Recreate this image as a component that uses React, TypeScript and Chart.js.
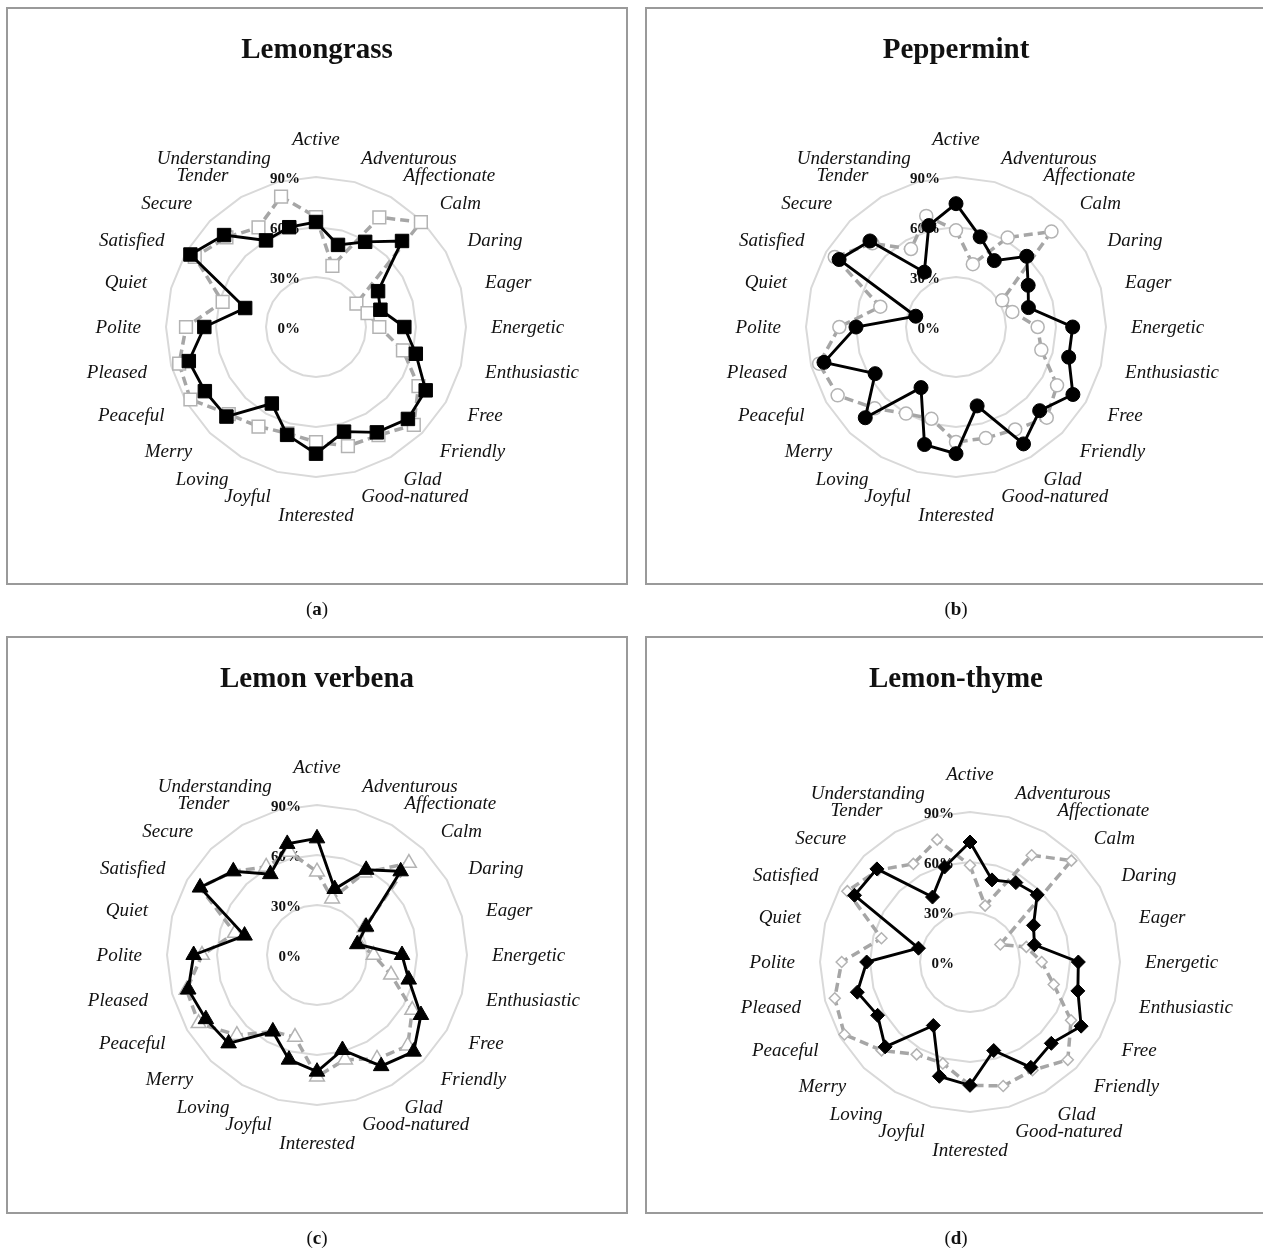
import React, { useEffect, useRef } from 'react';
import { Chart, registerables } from 'chart.js';

Chart.register(...registerables);

// ---------- data ----------
const categories = [
  'Active', 'Adventurous', 'Affectionate', 'Calm', 'Daring', 'Eager',
  'Energetic', 'Enthusiastic', 'Free', 'Friendly', 'Glad', 'Good-natured',
  'Interested', 'Joyful', 'Loving', 'Merry', 'Peaceful', 'Pleased',
  'Polite', 'Quiet', 'Satisfied', 'Secure', 'Tender', 'Understanding',
];

const axisMin = 0;
const axisMax = 90;
const axisStep = 30;

const lemongrassSolid = [63, 51, 59, 73, 43, 40, 53, 62, 76, 78, 73, 65, 76, 67, 53, 76, 77, 79, 67, 44, 87, 78, 60, 62];
const lemongrassDashed = [66, 38, 76, 89, 28, 32, 38, 54, 71, 83, 75, 74, 69, 66, 69, 74, 87, 85, 78, 58, 84, 76, 69, 81];

const peppermintSolid = [74, 56, 46, 60, 50, 45, 70, 70, 81, 71, 81, 49, 76, 73, 42, 77, 56, 82, 60, 25, 81, 73, 38, 63];
const peppermintDashed = [58, 39, 62, 81, 32, 35, 49, 53, 70, 77, 71, 69, 69, 57, 60, 69, 82, 85, 70, 47, 84, 71, 54, 69];

const verbenaSolid = [70, 41, 59, 71, 34, 25, 51, 57, 72, 82, 77, 59, 70, 65, 53, 75, 77, 80, 74, 45, 81, 71, 56, 69];
const verbenaDashed = [50, 35, 57, 78, 33, 26, 34, 46, 66, 77, 72, 65, 73, 51, 53, 68, 82, 81, 69, 51, 81, 71, 61, 64];

const thymeSolid = [72, 51, 55, 57, 44, 40, 65, 67, 77, 69, 73, 55, 74, 71, 44, 72, 64, 70, 62, 32, 80, 79, 45, 59];
const thymeDashed = [58, 35, 74, 86, 21, 35, 43, 52, 70, 83, 75, 77, 74, 63, 64, 75, 87, 84, 77, 55, 85, 78, 68, 76];

const panelTitles = ['Lemongrass', 'Peppermint', 'Lemon verbena', 'Lemon-thyme'];
const panelLetters = ['a', 'b', 'c', 'd'];

// ---------- styles ----------
const SERIF = '"Liberation Serif", "Times New Roman", serif';
const BOX_W = 622;
const BOX_H = 578;
const CANVAS_W = 620;
const CANVAS_H = 576;
const RADIUS = 150;

type PanelCfg = {
  title: string;
  letter: string;
  solid: number[];
  dashed: number[];
  marker: string;
  solidRadius: number;
  dashedRadius: number;
  boxLeft: number;
  boxTop: number;
  cx: number;
  cy: number;
};

const panels: PanelCfg[] = [
  { title: panelTitles[0], letter: panelLetters[0], solid: lemongrassSolid, dashed: lemongrassDashed, marker: 'rect', solidRadius: 9.5, dashedRadius: 9, boxLeft: 6, boxTop: 7, cx: 309, cy: 319 },
  { title: panelTitles[1], letter: panelLetters[1], solid: peppermintSolid, dashed: peppermintDashed, marker: 'circle', solidRadius: 7, dashedRadius: 6.5, boxLeft: 645, boxTop: 7, cx: 310, cy: 319 },
  { title: panelTitles[2], letter: panelLetters[2], solid: verbenaSolid, dashed: verbenaDashed, marker: 'triangle', solidRadius: 9, dashedRadius: 8.5, boxLeft: 6, boxTop: 636, cx: 310, cy: 318 },
  { title: panelTitles[3], letter: panelLetters[3], solid: thymeSolid, dashed: thymeDashed, marker: 'rectRot', solidRadius: 7, dashedRadius: 5.5, boxLeft: 645, boxTop: 636, cx: 324, cy: 325 },
];

const excelRadarText = {
  id: 'excelRadarText',
  beforeDatasetsDraw(chart: any) {
    const s = chart.scales.r;
    const ctx = chart.ctx;
    ctx.save();
    ctx.fillStyle = '#111';
    // tick labels
    ctx.font = `bold 15px ${SERIF}`;
    ctx.textAlign = 'right';
    ctx.textBaseline = 'middle';
    s.ticks.forEach((t: any) => {
      const d = s.getDistanceFromCenterForValue(t.value);
      ctx.fillText(`${t.value}%`, s.xCenter - 16, s.yCenter - d + 2);
    });
    // category labels
    ctx.font = `italic 19px ${SERIF}`;
    const labels: string[] = chart.data.labels;
    const n = labels.length;
    labels.forEach((lab, i) => {
      const p = s.getPointPosition(i, s.drawingArea + 25);
      const deg = (i * 360) / n;
      ctx.textAlign = deg === 0 || deg === 180 ? 'center' : deg < 180 ? 'left' : 'right';
      let y = p.y + 1;
      if (deg === 0) y -= 13;
      else if (deg === 180) y += 13;
      ctx.fillText(lab, p.x, y);
    });
    ctx.restore();
  },
  afterDraw(chart: any) {
    const ctx = chart.ctx;
    const title = chart.options.plugins.excelRadarText?.title ?? '';
    ctx.save();
    ctx.fillStyle = '#111';
    ctx.font = `bold 29px ${SERIF}`;
    ctx.textAlign = 'center';
    ctx.textBaseline = 'alphabetic';
    ctx.fillText(title, chart.width / 2, 50);
    ctx.restore();
  },
};

function RadarPanel({ cfg }: { cfg: PanelCfg }) {
  const ref = useRef<HTMLCanvasElement | null>(null);
  useEffect(() => {
    if (!ref.current) return;
    const chart = new Chart(ref.current, {
      type: 'radar',
      data: {
        labels: categories,
        datasets: [
          {
            data: cfg.solid,
            borderColor: '#000',
            backgroundColor: '#000',
            borderWidth: 2.9,
            fill: false,
            pointStyle: cfg.marker as any,
            pointRadius: cfg.solidRadius,
            pointBackgroundColor: '#000',
            pointBorderColor: '#000',
            pointBorderWidth: 1,
            clip: false as any,
          },
          {
            data: cfg.dashed,
            borderColor: '#a6a6a6',
            backgroundColor: '#fff',
            borderWidth: 3.5,
            borderDash: [9, 5],
            borderCapStyle: 'butt',
            fill: false,
            pointStyle: cfg.marker as any,
            pointRadius: cfg.dashedRadius,
            pointBackgroundColor: '#fff',
            pointBorderColor: '#b3b3b3',
            pointBorderWidth: 1.5,
            clip: false as any,
          },
        ],
      },
      options: {
        responsive: false,
        animation: false,
        devicePixelRatio: 1,
        layout: {
          padding: {
            left: cfg.cx - RADIUS,
            right: CANVAS_W - cfg.cx - RADIUS,
            top: cfg.cy - RADIUS,
            bottom: CANVAS_H - cfg.cy - RADIUS,
          },
        },
        elements: { line: { tension: 0 } },
        plugins: {
          legend: { display: false },
          tooltip: { enabled: false },
          excelRadarText: { title: cfg.title },
        } as any,
        scales: {
          r: {
            min: axisMin,
            max: axisMax,
            ticks: { display: false, stepSize: axisStep },
            grid: { color: '#d9d9d9', lineWidth: 2, circular: false },
            angleLines: { display: false },
            pointLabels: { display: false },
          },
        },
      },
      plugins: [excelRadarText as any],
    });
    return () => chart.destroy();
  }, [cfg]);

  return (
    <>
      <canvas
        ref={ref}
        width={CANVAS_W}
        height={CANVAS_H}
        style={{ position: 'absolute', left: cfg.boxLeft + 1, top: cfg.boxTop + 1, width: CANVAS_W, height: CANVAS_H, display: 'block' }}
      />
      <div
        style={{
          position: 'absolute',
          left: cfg.boxLeft,
          top: cfg.boxTop,
          width: BOX_W,
          height: BOX_H,
          boxSizing: 'border-box',
          border: '2px solid #9a9a9a',
          pointerEvents: 'none',
        }}
      />
      <div
        style={{
          position: 'absolute',
          left: cfg.boxLeft,
          top: cfg.boxTop + BOX_H + 14,
          width: BOX_W,
          textAlign: 'center',
          fontFamily: SERIF,
          fontSize: 19,
          lineHeight: '20px',
          color: '#111',
        }}
      >
        (<b>{cfg.letter}</b>)
      </div>
    </>
  );
}

export default function App() {
  return (
    <div
      style={{
        position: 'absolute',
        left: 0,
        top: 0,
        width: 1263,
        height: 1257,
        overflow: 'hidden',
        background: '#fff',
      }}
    >
      {panels.map((p) => (
        <RadarPanel key={p.letter} cfg={p} />
      ))}
    </div>
  );
}
